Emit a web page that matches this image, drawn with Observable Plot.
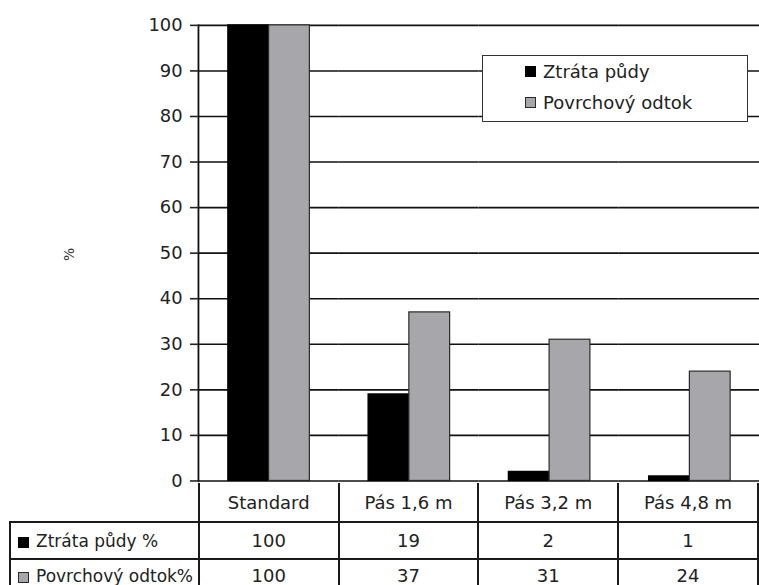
<!DOCTYPE html>
<html>
<head>
<meta charset="utf-8">
<script src="https://cdn.jsdelivr.net/npm/d3@7"></script>
<script src="https://cdn.jsdelivr.net/npm/@observablehq/plot@0.6"></script>
<style>
  html, body { margin: 0; padding: 0; background: #fff; overflow: hidden; }
  #wrap { position: relative; width: 759px; height: 585px; overflow: hidden; font-family: "DejaVu Sans", sans-serif; color: #222; }
  #chart { position: absolute; left: 0; top: 0; }
  #chart svg { overflow: visible; }
  #legend { position: absolute; left: 482px; top: 55px; width: 264px; height: 65px; border: 1.5px solid #333; background: #fff; box-sizing: content-box; font-size: 18px; }
  #legend .item { position: absolute; left: 42px; display: flex; align-items: center; white-space: nowrap; }
  #legend .sw { display: inline-block; width: 11px; height: 11px; margin-right: 7px; box-sizing: border-box; }
  #table { position: absolute; left: 9px; top: 483px; border-collapse: collapse; table-layout: fixed; font-size: 18px; }
  #table td { border: 2px solid #1a1a1a; text-align: center; padding: 0; white-space: nowrap; overflow: hidden; }
  #table td.lab { text-align: left; font-size: 17px; padding-left: 7px; }
  #table tr.head td { border-top: none; height: 38px; }
  #table tr.head td.blank { border-left: none; }
  #table tr.r1 td { height: 35px; }
  #table tr.r2 td { height: 31px; }
  #table .sw { display: inline-block; width: 11px; height: 11px; margin-right: 7px; box-sizing: border-box; vertical-align: -1px; }
</style>
</head>
<body>
<div id="wrap">
  <div id="chart"></div>
  <div id="legend"></div>
  <table id="table"></table>
</div>
<script>
// ---- data ----
const categories = ["Standard", "Pás 1,6 m", "Pás 3,2 m", "Pás 4,8 m"];
const series = ["Ztráta půdy", "Povrchový odtok"];
const ztrataPudy = [100, 19, 2, 1];
const povrchovyOdtok = [100, 37, 31, 24];
const yTicks = [0, 10, 20, 30, 40, 50, 60, 70, 80, 90, 100];
const seriesColors = ["#000000", "#a7a7ab"];
const seriesStrokes = ["#000000", "#2a2a2a"];
const tableLabels = ["Ztráta půdy %", "Povrchový odtok%"];

const rows = [];
categories.forEach((c, i) => {
  rows.push({category: c, series: series[0], value: ztrataPudy[i]});
  rows.push({category: c, series: series[1], value: povrchovyOdtok[i]});
});

const chart = Plot.plot({
  width: 763,
  height: 485,
  marginLeft: 198,
  marginRight: 0,
  marginTop: 25,
  marginBottom: 2,
  style: {fontFamily: "DejaVu Sans, sans-serif", fontSize: "18px", color: "#222", background: "transparent", overflow: "visible"},
  fx: {domain: categories, padding: 0, axis: null},
  x: {domain: series, paddingInner: 0, paddingOuter: 0.7, axis: null},
  y: {domain: [0, 100], axis: null},
  color: {domain: series, range: seriesColors},
  marks: [
    Plot.gridY(yTicks, {stroke: "#111", strokeOpacity: 1, strokeWidth: 1.6}),
    Plot.barY(rows, {
      fx: "category", x: "series", y: "value",
      fill: "series",
      stroke: d => seriesStrokes[series.indexOf(d.series)],
      strokeWidth: 1.2
    }),
    Plot.frame({anchor: "left", facetAnchor: "left", stroke: "#111", strokeWidth: 1.8}),
    Plot.axisY(yTicks, {
      facetAnchor: "left",
      tickSize: 8, tickPadding: 8, tickFormat: d => d, strokeWidth: 1.6,
      fontSize: 18, label: null
    }),
    Plot.text(["%"], {facetAnchor: "left", frameAnchor: "left", dx: -130, dy: 8, rotate: -90, fontSize: 14, fill: "#333"})
  ]
});
document.getElementById("chart").appendChild(chart);

// ---- legend ----
const legend = document.getElementById("legend");
series.forEach((s, i) => {
  const item = document.createElement("div");
  item.className = "item";
  item.style.top = (i === 0 ? 5 : 36) + "px";
  const sw = document.createElement("span");
  sw.className = "sw";
  sw.style.background = seriesColors[i];
  sw.style.border = "1.2px solid " + seriesStrokes[i];
  item.appendChild(sw);
  item.appendChild(document.createTextNode(s));
  legend.appendChild(item);
});

// ---- data table ----
const table = document.getElementById("table");
const colgroup = document.createElement("colgroup");
[189, 141.25, 141.25, 141.25, 141.25].forEach(w => {
  const col = document.createElement("col");
  col.style.width = w + "px";
  colgroup.appendChild(col);
});
table.appendChild(colgroup);
const head = document.createElement("tr");
head.className = "head";
const blank = document.createElement("td");
blank.className = "blank";
head.appendChild(blank);
categories.forEach(c => {
  const td = document.createElement("td");
  td.textContent = c;
  head.appendChild(td);
});
table.appendChild(head);
[ztrataPudy, povrchovyOdtok].forEach((vals, i) => {
  const tr = document.createElement("tr");
  tr.className = "r" + (i + 1);
  const lab = document.createElement("td");
  lab.className = "lab";
  const sw = document.createElement("span");
  sw.className = "sw";
  sw.style.background = seriesColors[i];
  sw.style.border = "1.2px solid " + seriesStrokes[i];
  lab.appendChild(sw);
  lab.appendChild(document.createTextNode(tableLabels[i]));
  tr.appendChild(lab);
  vals.forEach(v => {
    const td = document.createElement("td");
    td.textContent = v;
    tr.appendChild(td);
  });
  table.appendChild(tr);
});
</script>
</body>
</html>
